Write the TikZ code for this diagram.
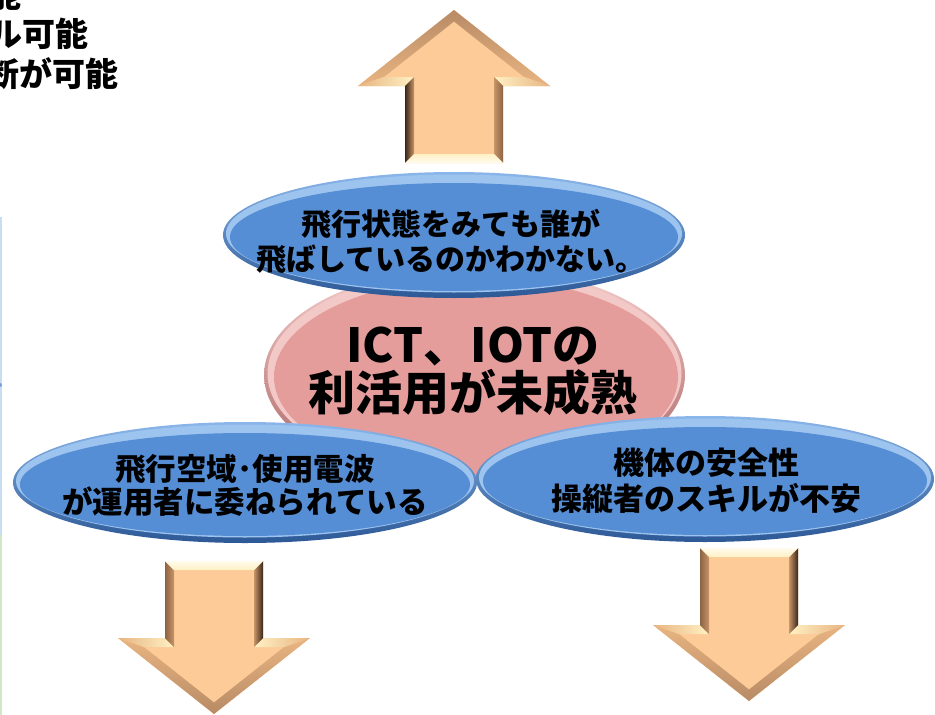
\documentclass[tikz,border=0pt]{standalone}
\usepackage{fontspec}
\setmainfont{Noto Sans CJK JP}
\definecolor{peach}{HTML}{FCCB98}
\definecolor{pale}{HTML}{FFF1C4}
\definecolor{tanx}{HTML}{E8B481}
\definecolor{slantc}{HTML}{B88B66}
\definecolor{darkbr}{HTML}{3A2718}
\definecolor{midbr}{HTML}{8C6444}
\definecolor{shaftin}{HTML}{C89468}
\definecolor{bluerimtop}{HTML}{8AB6EA}
\definecolor{bluerimbot}{HTML}{2C5896}
\definecolor{bluehi}{HTML}{9DC4EF}
\definecolor{bluemain}{HTML}{558ED5}
\definecolor{pinkrimtop}{HTML}{F4CFCD}
\definecolor{pinkrimbot}{HTML}{A8605F}
\definecolor{pinkhi}{HTML}{F3C9C7}
\definecolor{pinkmain}{HTML}{E59D9C}
\tikzset{
  txt/.style={inner sep=0pt, align=center, font=\bfseries, text=black},
}
\newcommand\bevarrow[3]{%
\begin{scope}[shift={(#1,#2)},xscale=#3,yscale=#3]
  \pgfmathsetmacro\va{#3>0?0:180}
  \pgfmathsetmacro\ha{#3>0?90:270}
  \coordinate (T) at (0,-153);
  \coordinate (R1) at (96,-77);  \coordinate (R2) at (49,-77);
  \coordinate (R3) at (49,0);    \coordinate (L3) at (-49,0);
  \coordinate (L2) at (-49,-77); \coordinate (L1) at (-96,-77);
  \coordinate (QT) at (0,-141.5);
  \coordinate (QR1) at (70.1,-86); \coordinate (QR2) at (40,-86);
  \coordinate (QR3) at (40,-9);    \coordinate (QL3) at (-40,-9);
  \coordinate (QL2) at (-40,-86);  \coordinate (QL1) at (-70.1,-86);
  \fill[peach] (T)--(R1)--(R2)--(R3)--(L3)--(L2)--(L1)--cycle;
  \shade[top color=slantc,bottom color=tanx,shading angle=\va] (L1)--(T)--(QT)--(QL1)--cycle;
  \shade[top color=slantc,bottom color=tanx,shading angle=\va] (T)--(R1)--(QR1)--(QT)--cycle;
  \shade[left color=tanx,right color=pale,shading angle=\ha] (L2)--(L1)--(QL1)--(QL2)--cycle;
  \shade[left color=pale,right color=tanx,shading angle=\ha] (R1)--(R2)--(QR2)--(QR1)--cycle;
  \shade[left color=darkbr,right color=shaftin,shading angle=\ha] (L3)--(L2)--(QL2)--(QL3)--cycle;
  \shade[left color=shaftin,right color=midbr,shading angle=\ha] (R2)--(R3)--(QR3)--(QR2)--cycle;
  \shade[top color=pale,bottom color=white!70!pale,shading angle=\va] (R3)--(L3)--(QL3)--(QR3)--cycle;
\end{scope}}
\begin{document}
\begin{tikzpicture}[x=1pt,y=-1pt]
\useasboundingbox (0,0) rectangle (935,715);
\fill[white] (0,0) rectangle (935,715);
% left edge strip
\draw[color={rgb,255:red,200;green,220;blue,242}, line width=2pt] (1,217)--(1,535);
\draw[color={rgb,255:red,210;green,232;blue,196}, line width=2pt] (1,535)--(1,715);
\fill[color={rgb,255:red,120;green,160;blue,220}] (0,385) circle [radius=2];
% top-left partial text
\node[txt, font=\bfseries\fontsize{33}{40}\selectfont, anchor=base east] (tl1) at (22,7) {能};
\node[txt, font=\bfseries\fontsize{33}{40}\selectfont, anchor=base east] (tl2) at (89,46.5) {ル可能};
\node[txt, font=\bfseries\fontsize{33}{40}\selectfont, anchor=base east] (tl3) at (119,86.5) {断が可能};
% arrows
\bevarrow{454}{163}{1}
\bevarrow{214}{561}{-1}
\bevarrow{749}{548}{-1}
% pink centre
\shade[top color=pinkrimtop,bottom color=pinkrimbot] (474.5,375) ellipse [x radius=210.5, y radius=108];
\fill[pinkhi] (474.5,373.5) ellipse [x radius=207, y radius=104];
\fill[pinkmain] (476,377) ellipse [x radius=202, y radius=99];
\node[txt, font=\bfseries\fontsize{47}{48}\selectfont] (core) at (473,371) {ICT、IOTの\\利活用が未成熟};
% top blue
\shade[top color=bluerimtop,bottom color=bluerimbot] (454,235) ellipse [x radius=231, y radius=63];
\fill[bluehi] (454,233.5) ellipse [x radius=228, y radius=59];
\fill[bluemain] (454,237) ellipse [x radius=224, y radius=54];
\node[txt, font=\bfseries\fontsize{30}{35}\selectfont] (top) at (451,241) {飛行状態をみても誰が\\飛ばしているのかわかない。};
% lower left blue
\shade[top color=bluerimtop,bottom color=bluerimbot] (245,482.5) ellipse [x radius=232, y radius=60.5];
\fill[bluehi] (245,481) ellipse [x radius=229, y radius=56.5];
\fill[bluemain] (245,484.5) ellipse [x radius=225, y radius=51.5];
\node[txt, font=\bfseries\fontsize{30.5}{33}\selectfont] (left) at (245,485.5) {飛行空域･使用電波\\が運用者に委ねられている};
% lower right blue
\shade[top color=bluerimtop,bottom color=bluerimbot] (705,479) ellipse [x radius=229, y radius=63];
\fill[bluehi] (705,477.5) ellipse [x radius=226, y radius=59];
\fill[bluemain] (705,481) ellipse [x radius=222, y radius=54];
\node[txt, font=\bfseries\fontsize{31}{36}\selectfont] (right) at (706,481) {機体の安全性\\操縦者のスキルが不安};
\end{tikzpicture}
\end{document}
